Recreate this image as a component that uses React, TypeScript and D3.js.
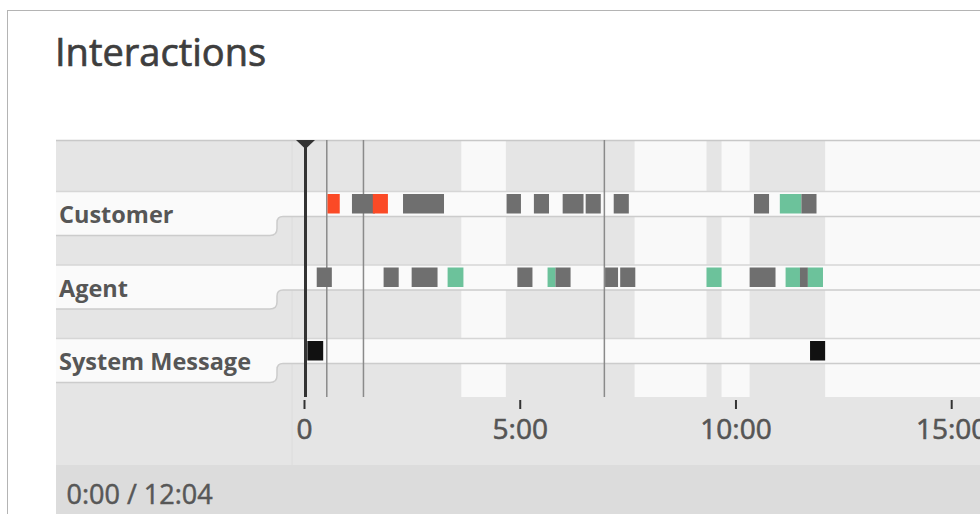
import React from "react";
import * as d3 from "d3";

// ---- data ----
const rows = ["Customer", "Agent", "System Message"];
// segments: [start(s), end(s), kind]
const customerSegments: [number, number, string][] = [
  [32, 49, "red"],
  [66, 98, "grey"],
  [95, 116, "red"],
  [137, 194, "grey"],
  [281, 301, "grey"],
  [319, 340, "grey"],
  [359, 388, "grey"],
  [391, 412, "grey"],
  [430, 451, "grey"],
  [625, 646, "grey"],
  [661, 691, "green"],
  [691, 712, "grey"],
];
const agentSegments: [number, number, string][] = [
  [17, 38, "grey"],
  [110, 131, "grey"],
  [149, 185, "grey"],
  [199, 221, "green"],
  [296, 317, "grey"],
  [338, 349, "green"],
  [349, 370, "grey"],
  [418, 436, "grey"],
  [439, 460, "grey"],
  [559, 580, "green"],
  [619, 655, "grey"],
  [669, 689, "green"],
  [689, 700, "grey"],
  [700, 721, "green"],
];
const systemSegments: [number, number, string][] = [
  [4, 26, "black"],
  [703, 724, "black"],
];
const lightBands: [number, number][] = [
  [218, 280],
  [459, 559],
  [580, 619],
  [724, 1000],
];
const markerLines = [31, 82, 417];
const playhead = 0;
const tickValues = [0, 300, 600, 900];
const totalDuration = 724;

const colors: Record<string, string> = {
  grey: "#6f6f6f",
  red: "#fb4a26",
  green: "#6cc29b",
  black: "#111111",
};

const fmt = (s: number) => {
  if (s === 0) return "0";
  const m = Math.floor(s / 60);
  const sec = Math.round(s % 60);
  return `${m}:${String(sec).padStart(2, "0")}`;
};
const fmtClock = (s: number) => {
  const m = Math.floor(s / 60);
  const sec = Math.round(s % 60);
  return `${m}:${String(sec).padStart(2, "0")}`;
};

export default function App() {
  const W = 980;
  const H = 514;
  const left = 56;
  const plotTop = 140;
  const plotBottom = 397;
  const axisBottom = 465;
  const x = d3.scaleLinear().domain([0, 900]).range([304.5, 951.7]);
  const rowY = d3.scalePoint<string>().domain(rows).range([191.5, 338.5]);
  const stripH = 25;
  const font = "'Open Sans', 'Noto Sans', sans-serif";
  const segs = [customerSegments, agentSegments, systemSegments];

  return (
    <svg
      width={W}
      height={H}
      style={{ position: "absolute", left: 0, top: 0, display: "block" }}
    >
      <rect x={0} y={0} width={W} height={H} fill="#ffffff" />
      {/* card border */}
      <rect x={7.5} y={10.5} width={W + 20} height={H + 20} fill="none" stroke="#b4b4b4" strokeWidth={1} />
      <text x={55} y={66} fontFamily={font} fontSize={38} fill="#3e3e3e" stroke="#3e3e3e" strokeWidth={0.7}>
        Interactions
      </text>

      {/* plot background */}
      <rect x={left} y={plotTop} width={W - left} height={axisBottom - plotTop} fill="#e5e5e5" />
      {lightBands.map(([a, b], i) => (
        <rect key={i} x={x(a)} y={plotTop} width={Math.min(x(b), W) - x(a)} height={plotBottom - plotTop} fill="#f9f9f9" />
      ))}
      <line x1={292} x2={292} y1={plotTop} y2={axisBottom} stroke="#dcdcdc" strokeWidth={1} />
      <line x1={left} x2={W} y1={plotTop + 0.5} y2={plotTop + 0.5} stroke="#c8c8c8" strokeWidth={1.5} />
      {/* footer */}
      <rect x={left} y={axisBottom} width={W - left} height={H - axisBottom} fill="#dcdcdc" />

      {/* row strips and label tabs */}
      {rows.map((r) => {
        const t = rowY(r)!;
        const b = t + stripH;
        const tabB = t + 44;
        const cx = 277;
        const path = `M${left},${t} L${W},${t} L${W},${b} L${cx + 6},${b} Q${cx},${b} ${cx},${b + 6} L${cx},${tabB - 7} Q${cx},${tabB} ${cx - 7},${tabB} L${left},${tabB} Z`;
        const edge = `M${W},${b} L${cx + 6},${b} Q${cx},${b} ${cx},${b + 6} L${cx},${tabB - 7} Q${cx},${tabB} ${cx - 7},${tabB} L${left},${tabB}`;
        return (
          <g key={r}>
            <path d={path} fill="#fafafa" />
            <line x1={left} x2={W} y1={t} y2={t} stroke="#d6d6d6" strokeWidth={1.5} />
            <path d={edge} fill="none" stroke="#cccccc" strokeWidth={1.5} />
            <text x={59} y={t + 31.5} fontFamily={font} fontSize={23.5} fontWeight={700} fill="#565656">
              {r}
            </text>
          </g>
        );
      })}

      {/* marker lines */}
      {markerLines.map((m, i) => (
        <line key={i} x1={x(m)} x2={x(m)} y1={plotTop} y2={plotBottom} stroke="#8a8a8a" strokeWidth={1.5} />
      ))}

      {/* segments */}
      {segs.map((list, ri) =>
        list.map(([s, e, k], i) => (
          <rect
            key={`${ri}-${i}`}
            x={x(s)}
            y={rowY(rows[ri])! + 2.5}
            width={x(e) - x(s)}
            height={19.5}
            fill={colors[k]}
          />
        ))
      )}

      {/* playhead */}
      <line x1={x(playhead) + 1} x2={x(playhead) + 1} y1={plotTop} y2={plotBottom} stroke="#333333" strokeWidth={3} />
      <path
        d={`M${x(playhead) + 1 - 9.5},${plotTop} L${x(playhead) + 1 + 9.5},${plotTop} L${x(playhead) + 1},${plotTop + 9} Z`}
        fill="#333333"
      />

      {/* axis */}
      {tickValues.map((v) => (
        <g key={v}>
          <line x1={x(v)} x2={x(v)} y1={400} y2={409} stroke="#333333" strokeWidth={2} />
          <text x={x(v)} y={439} textAnchor="middle" fontFamily={font} fontSize={28} fill="#555555" stroke="#555555" strokeWidth={0.6}>
            {fmt(v)}
          </text>
        </g>
      ))}

      <text x={66.5} y={504} fontFamily={font} fontSize={27} fill="#575757" stroke="#575757" strokeWidth={0.5}>
        {`${fmtClock(playhead)} / ${fmtClock(totalDuration)}`}
      </text>
    </svg>
  );
}
